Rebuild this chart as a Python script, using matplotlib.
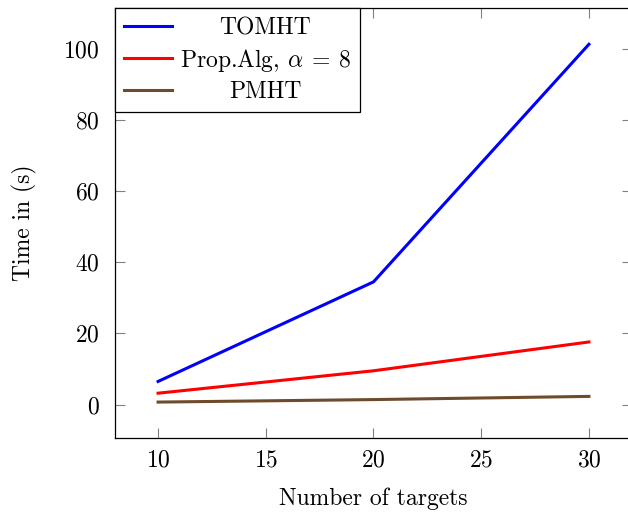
import matplotlib
matplotlib.use("Agg")
import matplotlib.pyplot as plt

targets = [10, 20, 30]
tomht = [6.5, 34.5, 101.3]
prop_alg = [3.2, 9.5, 17.6]
pmht = [0.7, 1.4, 2.3]
x_ticks = [10, 15, 20, 25, 30]
y_ticks = [0, 20, 40, 60, 80, 100]

plt.rcParams['font.family'] = 'serif'
plt.rcParams['font.serif'] = ['cmr10']
plt.rcParams['mathtext.fontset'] = 'cm'
plt.rcParams['axes.formatter.use_mathtext'] = True

FS = 17

fig = plt.figure(figsize=(6.28, 5.12), dpi=100)
ax = fig.add_axes([115/628, 1-438/512, (632-115)/628, (438-8)/512])

ax.plot(targets, tomht, color='#0000ff', lw=2.2, label='TOMHT')
ax.plot(targets, prop_alg, color='#ff0000', lw=2.2, label=r'Prop.Alg, $\alpha\:=\:8$')
ax.plot(targets, pmht, color='#6e4b2a', lw=2.2, label='PMHT')

ax.set_xlim(8, 32)
ax.set_ylim(-9.4, 111.5)
ax.set_xticks(x_ticks)
ax.set_yticks(y_ticks)
ax.tick_params(direction='in', length=7, width=0.8, color='#808080',
               top=True, right=True, labelsize=FS, pad=8)
ax.tick_params(axis='y', pad=11)
for s in ax.spines.values():
    s.set_linewidth(0.9)

ax.set_xlabel('Number of targets', fontsize=FS, labelpad=12)
ax.set_ylabel('Time in (s)', fontsize=FS, labelpad=19)

leg = ax.legend(loc='upper left', bbox_to_anchor=(0, 1), borderaxespad=0,
                fancybox=False, edgecolor='black', framealpha=1, fontsize=FS,
                handlelength=2.0, labelspacing=0.3, borderpad=0.4, handletextpad=0.35)
leg.get_frame().set_linewidth(0.9)

fig.canvas.draw()
r = fig.canvas.get_renderer()
texts = leg.get_texts()
ws = [t.get_window_extent(r).width for t in texts]
wmax = max(ws)
for t, w in zip(texts, ws):
    t.set_x((wmax - w) / 2)

fig.savefig('out.png', dpi=100)
